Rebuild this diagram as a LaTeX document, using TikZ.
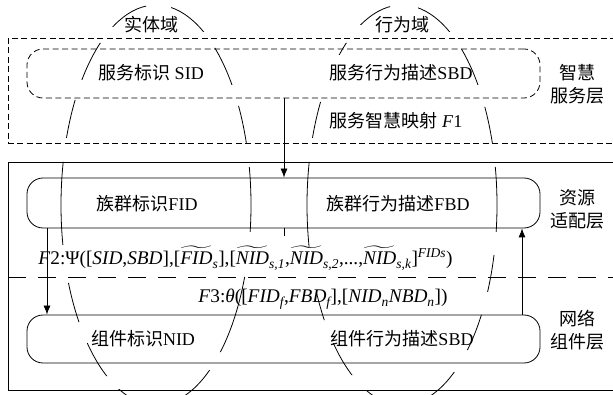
\documentclass[tikz,border=0pt]{standalone}
\usepackage{amsmath}
\usepackage{fontspec}
\setmainfont{Liberation Serif}
\newfontfamily\cnfont{Noto Sans CJK SC}
\newcommand{\cn}[1]{{\cnfont #1}}
%% variable avec indice, avec ou sans tilde
\newcommand{\vsb}[2]{$\text{\itshape #1}_{\text{\itshape #2}}$}
\newcommand{\tsb}[2]{$\widetilde{\text{\itshape #1}}_{\text{\itshape #2}}$}
\usetikzlibrary{arrows.meta}

\tikzset{
  box/.style = {draw, rounded corners=16pt, minimum width=513pt, inner sep=0pt},
  sdash/.style = {dash pattern=on 6pt off 3.5pt},
  ldash/.style = {dash pattern=on 18pt off 12pt},
  txt/.style = {inner sep=0pt, font=\fontsize{18}{22}\selectfont},
  fml/.style = {inner sep=0pt, font=\fontsize{19.3}{23}\selectfont},
  layer/.style = {txt, align=center, font=\fontsize{18}{23}\selectfont},
}

\begin{document}
\begin{tikzpicture}[x=1pt, y=-1pt, line width=0.8pt, >={Latex[length=9pt,width=7pt]}]
\useasboundingbox (0,0) rectangle (613,395);

%% cadres des couches
\draw[sdash] (8,38) rectangle (625,143);
\draw (8,162) rectangle (625,390);
\draw[ldash] (8,277) -- (625,277);

%% boites arrondies
\node[box, sdash, minimum height=49pt] (srv) at (283.5,73.5) {};
\node[box, minimum height=50pt] (fam) at (283.5,203) {};
\node[box, minimum height=48pt] (comp) at (283.5,339) {};

%% domaine entite (ellipse coupee)
\begin{scope}[even odd rule]
\clip (0,0) rectangle (613,395)
  (146,0) rectangle (171,10)
  (40,27) rectangle (156,43) (40,80) rectangle (156,100)
  (40,138) rectangle (156,162) (40,245) rectangle (156,283)
  (40,322) rectangle (156,343) (40,376) rectangle (156,389)
  (156,32) rectangle (270,48) (156,85) rectangle (270,106)
  (156,143) rectangle (270,167) (156,232) rectangle (270,277)
  (156,352) rectangle (270,370);
\draw (156,205) ellipse [x radius=95, y radius=200];
\end{scope}

%% domaine comportement
\begin{scope}[even odd rule]
\clip (0,0) rectangle (613,395)
  (390,0) rectangle (418,10)
  (296,25) rectangle (402,43) (296,55) rectangle (402,102)
  (296,138) rectangle (402,162) (296,247) rectangle (402,293)
  (296,320) rectangle (402,343) (296,375) rectangle (402,390)
  (402,32) rectangle (510,49) (402,85) rectangle (510,107)
  (402,143) rectangle (510,167) (402,232) rectangle (510,255)
  (402,292) rectangle (510,315) (402,350) rectangle (510,372);
\draw (402,205) ellipse [x radius=95, y radius=200];
\end{scope}

%% textes
\node[txt] (ent) at (151,25) {\cn{实体域}};
\node[txt] (beh) at (402,25) {\cn{行为域}};
\node[txt] (sid) at (151,73) {\cn{服务标识} SID};
\node[txt] (sbd) at (401,73) {\cn{服务行为描述}SBD};
\node[txt] (map) at (396,121) {\cn{服务智慧映射} \textit{F}1};
\node[txt] (fid) at (147,204) {\cn{族群标识}FID};
\node[txt] (fbd) at (398,204) {\cn{族群行为描述}FBD};
\node[txt] (nid) at (143,339) {\cn{组件标识}NID};
\node[txt] (nbd) at (402,339) {\cn{组件行为描述}SBD};

%% noms des couches
\node[layer] (l1) at (577,84) {\cn{智慧}\\\cn{服务层}};
\node[layer] (l2) at (577,209) {\cn{资源}\\\cn{适配层}};
\node[layer] (l3) at (577,330) {\cn{网络}\\\cn{组件层}};

%% fonctions F2 et F3
\node[fml, anchor=base west] (f2) at (38,265)
  {\textit{F}2:Ψ([\textit{SID},\textit{SBD}],[\tsb{FID}{s}],[\tsb{NID}{s,1},\tsb{NID}{s,2},...,\tsb{NID}{s,k}]$^{\text{\itshape FIDs}}$)};
\node[fml, anchor=base east] (f3) at (448,303)
  {\textit{F}3:\textit{θ}([\vsb{FID}{f},\vsb{FBD}{f}],[\vsb{NID}{n}\vsb{NBD}{n}])};

%% fleches
\coordinate (mid) at (284,0);
\coordinate (lft) at (47,0);
\coordinate (rgt) at (522,0);
\draw[->] (srv.south -| mid) -- (fam.north -| mid);
\draw (fam.south -| mid) -- ++(0,8);
\draw[->] (fam.south -| lft) -- (comp.north -| lft);
\draw[->] (comp.north -| rgt) -- (fam.south -| rgt);

\end{tikzpicture}
\end{document}
